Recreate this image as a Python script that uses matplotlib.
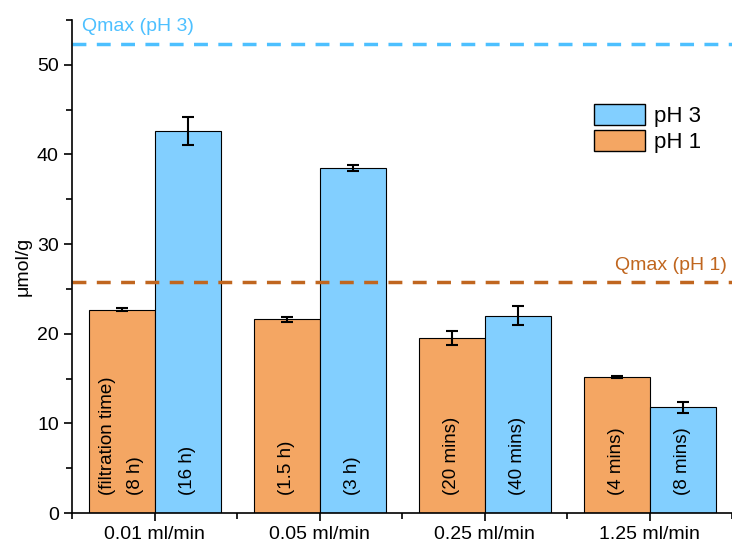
import matplotlib
matplotlib.use("Agg")
import matplotlib.pyplot as plt
import numpy as np
from matplotlib.patches import Patch
from matplotlib.ticker import MultipleLocator, FixedLocator

plt.rcParams['font.family'] = ['Liberation Sans', 'DejaVu Sans']

rates = ["0.01 ml/min", "0.05 ml/min", "0.25 ml/min", "1.25 ml/min"]
ph1 = [22.7, 21.6, 19.5, 15.2]
ph1_err = [0.2, 0.3, 0.8, 0.1]
ph3 = [42.6, 38.5, 22.0, 11.8]
ph3_err = [1.6, 0.3, 1.05, 0.6]
ph1_times = ["(filtration time)\n(8 h)", "(1.5 h)", "(20 mins)", "(4 mins)"]
ph3_times = ["(16 h)", "(3 h)", "(40 mins)", "(8 mins)"]
qmax_ph3 = 52.3
qmax_ph1 = 25.8

c_ph1 = "#F4A663"
c_ph3 = "#82CFFF"
c_q3 = "#4DC0FF"
c_q1 = "#C0661F"

fig = plt.figure(figsize=(7.32, 5.45), dpi=100)
ax = fig.add_axes([72/732, 32/545, 660/732, 493/545])

x = np.arange(len(rates))
w = 0.4
ax.bar(x - w/2, ph1, w, color=c_ph1, edgecolor="black", linewidth=0.8,
       yerr=ph1_err, error_kw=dict(ecolor="black", elinewidth=1.5, capsize=4, capthick=1.5))
ax.bar(x + w/2, ph3, w, color=c_ph3, edgecolor="black", linewidth=0.8,
       yerr=ph3_err, error_kw=dict(ecolor="black", elinewidth=1.5, capsize=4, capthick=1.5))

for i in range(len(rates)):
    ax.text(x[i] - w/2, 2, ph1_times[i], rotation=90, ha="center", va="bottom",
            multialignment="left", fontsize=13.5, linespacing=1.9)
    ax.text(x[i] + w/2, 2, ph3_times[i], rotation=90, ha="center", va="bottom",
            multialignment="left", fontsize=13.5)

ax.axhline(qmax_ph3, color=c_q3, linestyle=(0, (4, 3)), linewidth=2.5)
ax.axhline(qmax_ph1, color=c_q1, linestyle=(0, (4, 3)), linewidth=2.5)
ax.text(-0.44, qmax_ph3 + 1.0, "Qmax (pH 3)", color=c_q3, fontsize=14, ha="left", va="bottom")
ax.text(3.47, qmax_ph1 + 0.9, "Qmax (pH 1)", color=c_q1, fontsize=14, ha="right", va="bottom")

ax.set_xlim(-0.5, 3.5)
ax.set_ylim(0, 55)
ax.set_xticks(x)
ax.set_xticklabels(rates, fontsize=14)
ax.xaxis.set_minor_locator(FixedLocator([-0.5, 0.5, 1.5, 2.5, 3.5]))
ax.yaxis.set_major_locator(MultipleLocator(10))
ax.yaxis.set_minor_locator(MultipleLocator(5))
ax.tick_params(axis="both", which="major", length=6, width=1.2, labelsize=14, direction="out")
ax.tick_params(axis="both", which="minor", length=4, width=1.2, direction="out")
ax.set_ylabel("μmol/g", fontsize=14)
for s in ["top", "right"]:
    ax.spines[s].set_visible(False)
for s in ["left", "bottom"]:
    ax.spines[s].set_linewidth(1.2)

handles = [Patch(facecolor=c_ph3, edgecolor="black", label="pH 3"),
           Patch(facecolor=c_ph1, edgecolor="black", label="pH 1")]
ax.legend(handles=handles, loc="upper left", bbox_to_anchor=(0.76, 0.87), frameon=False,
          fontsize=16, handlelength=2.3, handleheight=1.1, labelspacing=0.12, handletextpad=0.4)

fig.savefig("out.png", dpi=100)
